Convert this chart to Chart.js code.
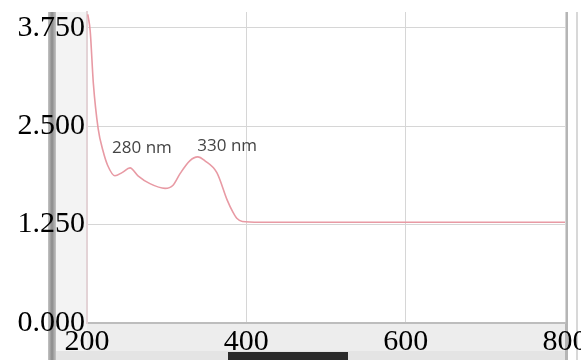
<!DOCTYPE html>
<html>
<head>
<meta charset="utf-8">
<script src="https://cdn.jsdelivr.net/npm/chart.js@4"></script>
<style>
  html, body { margin: 0; padding: 0; background: #fff; }
  #wrap { width: 581px; height: 360px; position: relative; }
</style>
</head>
<body>
<div id="wrap"><canvas id="spectrum"></canvas></div>
<script>
// wavelength (nm) and absorbance
const wavelengths = [201, 204, 208, 214, 220, 226, 235, 244, 254, 264, 279, 298, 308, 317, 329, 339, 348, 363, 376, 383, 388, 395, 417, 500, 600, 700, 800];
const absorbance  = [3.92, 3.71, 3.04, 2.47, 2.19, 2.00, 1.87, 1.91, 1.97, 1.87, 1.77, 1.71, 1.75, 1.90, 2.06, 2.11, 2.06, 1.91, 1.56, 1.41, 1.33, 1.29, 1.28, 1.28, 1.28, 1.28, 1.28];

const xTicks = [200, 400, 600, 800];
const yTicks = [0, 1.25, 2.5, 3.75];

// peak annotations: [wavelength, absorbance, text]
const peakLabels = [
    [269, 2.22, '280 nm'],
    [376, 2.24, '330 nm']
];

const LINE_COLOR = '#e89aa4';
const GRID_COLOR = '#d6d6d6';

// grey window chrome of the original screenshot around the plot
const chromePlugin = {
    id: 'chrome',
    beforeDraw(chart) {
        const ctx = chart.ctx;
        const a = chart.chartArea;
        const H = chart.height;
        ctx.save();
        ctx.fillStyle = '#f3f3f3';
        ctx.fillRect(a.left - 32, a.top, 32, H - a.top);
        ctx.fillStyle = '#ededed';
        ctx.fillRect(a.left, a.bottom, a.right - a.left, 28);
        ctx.fillStyle = '#e4e4e4';
        ctx.fillRect(a.left - 32, a.bottom + 28, a.right - a.left + 32, H - a.bottom - 28);
        ctx.fillStyle = '#2b2b2b';
        ctx.fillRect(a.left + 141, a.bottom + 29, 120, H - a.bottom - 29);
        const g = ctx.createLinearGradient(a.left - 39, 0, a.left - 31, 0);
        g.addColorStop(0, '#c4c4c4');
        g.addColorStop(0.5, '#8a8a8a');
        g.addColorStop(1, '#c4c4c4');
        ctx.fillStyle = g;
        ctx.fillRect(a.left - 39, a.top, 8, H - a.top);
        ctx.fillStyle = '#b5b5b5';
        ctx.fillRect(a.right, a.top, 3, H - a.top);
        ctx.fillStyle = '#d8d8d8';
        ctx.fillRect(a.right + 11, a.top, 2, H - a.top);
        ctx.restore();
    }
};

const peakLabelPlugin = {
    id: 'peakLabels',
    afterDatasetsDraw(chart) {
        const ctx = chart.ctx;
        const xs = chart.scales.x, ys = chart.scales.y;
        ctx.save();
        ctx.font = '17px "Open Sans", "Noto Sans", sans-serif';
        ctx.fillStyle = '#444';
        ctx.textAlign = 'center';
        ctx.textBaseline = 'middle';
        peakLabels.forEach(p => {
            ctx.fillText(p[2], xs.getPixelForValue(p[0]), ys.getPixelForValue(p[1]));
        });
        ctx.restore();
    }
};

function zeroPadding(scale) {
    scale.paddingLeft = 0;
    scale.paddingRight = 0;
    scale.paddingTop = 0;
    scale.paddingBottom = 0;
}

new Chart(document.getElementById('spectrum'), {
    type: 'line',
    data: {
        datasets: [{
            data: wavelengths.map((w, i) => ({ x: w, y: absorbance[i] })),
            borderColor: LINE_COLOR,
            borderWidth: 1.6,
            pointRadius: 0,
            cubicInterpolationMode: 'monotone',
            fill: false
        }]
    },
    options: {
        responsive: true,
        maintainAspectRatio: false,
        animation: false,
        layout: { padding: { top: 12, right: 16, left: 0, bottom: 0 } },
        plugins: { legend: { display: false }, tooltip: { enabled: false } },
        scales: {
            x: {
                type: 'linear',
                min: 200,
                max: 800,
                afterBuildTicks: s => { s.ticks = xTicks.map(v => ({ value: v })); },
                afterFit: s => { s.height = 37; zeroPadding(s); },
                grid: { color: GRID_COLOR, drawTicks: false },
                border: { color: '#bdbdbd', width: 2 },
                ticks: {
                    padding: 1,
                    maxRotation: 0,
                    color: '#000',
                    font: { family: '"Liberation Serif", "Times New Roman", serif', size: 30 }
                }
            },
            y: {
                min: 0,
                max: 3.95,
                afterBuildTicks: s => { s.ticks = yTicks.map(v => ({ value: v })); },
                afterFit: s => { s.width = 87; zeroPadding(s); },
                grid: { color: GRID_COLOR, drawTicks: false },
                border: { color: '#e3d3d6', width: 2 },
                ticks: {
                    padding: 2,
                    color: '#000',
                    callback: v => v.toFixed(3),
                    font: { family: '"Liberation Serif", "Times New Roman", serif', size: 30 }
                }
            }
        }
    },
    plugins: [chromePlugin, peakLabelPlugin]
});
</script>
</body>
</html>
